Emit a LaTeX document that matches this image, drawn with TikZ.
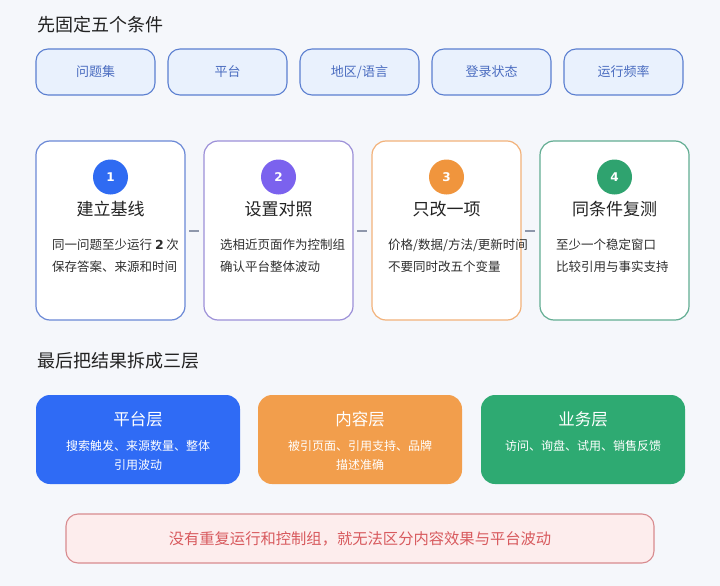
\documentclass[tikz,border=0pt]{standalone}
\usepackage{fontspec}
\setmainfont{Noto Sans CJK SC}
\newfontfamily\numfont{DejaVu Sans}
\definecolor{bg}{HTML}{F5F7FB}
\definecolor{headc}{HTML}{222222}
\definecolor{condfill}{HTML}{E9F1FD}
\definecolor{conddraw}{HTML}{5B7FD0}
\definecolor{condtext}{HTML}{4A6CC0}
\definecolor{cblue}{HTML}{2F6BF2}
\definecolor{cpurple}{HTML}{7B62EE}
\definecolor{corange}{HTML}{F0953D}
\definecolor{cgreen}{HTML}{2FA36F}
\definecolor{bblue}{HTML}{6A88D6}
\definecolor{bpurple}{HTML}{9C90D8}
\definecolor{borange}{HTML}{F2B27A}
\definecolor{bgreen}{HTML}{62AD92}
\definecolor{lblue}{HTML}{2F6BF5}
\definecolor{lorange}{HTML}{F29E4C}
\definecolor{lgreen}{HTML}{2EAA72}
\definecolor{warnfill}{HTML}{FDEDED}
\definecolor{warndraw}{HTML}{D88B8F}
\definecolor{warntext}{HTML}{D85A5E}
\definecolor{bodyc}{HTML}{2E2E2E}
\definecolor{connc}{HTML}{8E97AB}
\begin{document}
\begin{tikzpicture}[x=1pt,y=-1pt,
  heading/.style={anchor=west,text=headc,font=\fontsize{18}{22}\selectfont,inner sep=0},
  condbox/.style={draw=conddraw,fill=condfill,line width=1.1pt,rounded corners=12pt,
    minimum width=119pt,minimum height=46pt,text=condtext,font=\fontsize{13}{16}\selectfont},
  card/.style={draw=#1,fill=white,line width=1.2pt,rounded corners=14pt,
    minimum width=149pt,minimum height=179pt},
  numcirc/.style={circle,fill=#1,minimum size=35pt,inner sep=0,text=white,
    font=\numfont\bfseries\fontsize{12}{14}\selectfont},
  cardtitle/.style={text=headc,font=\fontsize{17}{20}\selectfont,inner sep=0},
  cardbody/.style={anchor=west,text=bodyc,font=\fontsize{12.5}{15}\selectfont,inner sep=0},
  conn/.style={draw=connc,line width=2pt,shorten <=3.5pt,shorten >=4pt},
  layer/.style={fill=#1,rounded corners=14pt,minimum width=204pt,minimum height=89pt},
  layertitle/.style={text=white,font=\fontsize{16.5}{20}\selectfont,inner sep=0},
  layerbody/.style={text=white,font=\fontsize{12}{15}\selectfont,inner sep=0},
  warn/.style={draw=warndraw,fill=warnfill,line width=1.1pt,rounded corners=12pt,
    minimum width=588pt,minimum height=49pt,text=warntext,font=\fontsize{15.3}{18}\selectfont}
]
\useasboundingbox[fill=bg] (0,0) rectangle (720,586);

% heading 1
\node[heading] (h1) at (37,25) {先固定五个条件};

% conditions
\node[condbox] (k1) at (95.5,72) {问题集};
\node[condbox] (k2) at (227.5,72) {平台};
\node[condbox] (k3) at (359.5,72) {地区/语言};
\node[condbox] (k4) at (491.5,72) {登录状态};
\node[condbox] (k5) at (623.5,72) {运行频率};

% cards
\node[card=bblue] (c1) at (110.5,230.5) {};
\node[card=bpurple] (c2) at (278.5,230.5) {};
\node[card=borange] (c3) at (446.5,230.5) {};
\node[card=bgreen] (c4) at (614.5,230.5) {};

\draw[conn] (c1.east) -- (c2.west);
\draw[conn] (c2.east) -- (c3.west);
\draw[conn] (c3.east) -- (c4.west);

\node[numcirc=cblue] (n1) at (110.5,177) {1};
\node[numcirc=cpurple] (n2) at (278.5,177) {2};
\node[numcirc=corange] (n3) at (446.5,177) {3};
\node[numcirc=cgreen] (n4) at (614.5,177) {4};

\node[cardtitle] (t1) at (110.5,209) {建立基线};
\node[cardtitle] (t2) at (278.5,209) {设置对照};
\node[cardtitle] (t3) at (446.5,209) {只改一项};
\node[cardtitle] (t4) at (614.5,209) {同条件复测};

\node[cardbody] (b1a) at (52,245) {同一问题至少运行 {\numfont\bfseries 2} 次};
\node[cardbody] (b1b) at (52,267) {保存答案、来源和时间};
\node[cardbody] (b2a) at (220,245) {选相近页面作为控制组};
\node[cardbody] (b2b) at (220,267) {确认平台整体波动};
\node[cardbody] (b3a) at (388,245) {价格/数据/方法/更新时间};
\node[cardbody] (b3b) at (388,267) {不要同时改五个变量};
\node[cardbody] (b4a) at (556,245) {至少一个稳定窗口};
\node[cardbody] (b4b) at (556,267) {比较引用与事实支持};

% heading 2
\node[heading] (h2) at (37,361) {最后把结果拆成三层};

% layers
\node[layer=lblue] (l1) at (138,439.5) {};
\node[layer=lorange] (l2) at (360,439.5) {};
\node[layer=lgreen] (l3) at (583,439.5) {};

\node[layertitle] (lt1) at (138,419) {平台层};
\node[layertitle] (lt2) at (360,419) {内容层};
\node[layertitle] (lt3) at (583,419) {业务层};

\node[layerbody] (lb1a) at (138,446) {搜索触发、来源数量、整体};
\node[layerbody] (lb1b) at (138,465) {引用波动};
\node[layerbody] (lb2a) at (360,446) {被引页面、引用支持、品牌};
\node[layerbody] (lb2b) at (360,465) {描述准确};
\node[layerbody] (lb3a) at (583,446) {访问、询盘、试用、销售反馈};

% warning
\node[warn] (w) at (360,538.5) {没有重复运行和控制组，就无法区分内容效果与平台波动};
\end{tikzpicture}
\end{document}
